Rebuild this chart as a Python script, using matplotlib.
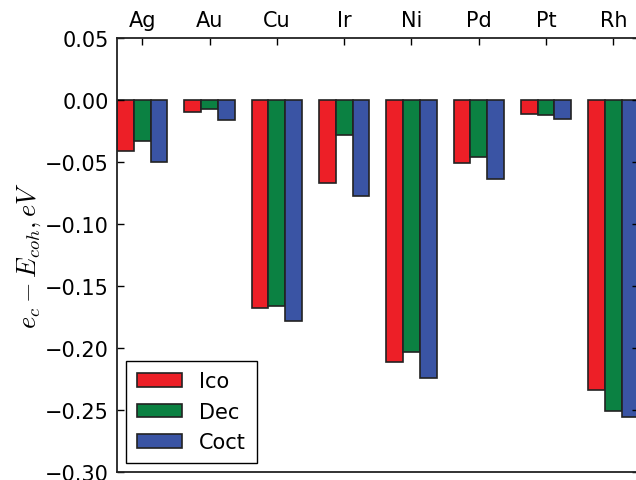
import matplotlib
matplotlib.use("Agg")
import matplotlib.pyplot as plt
import numpy as np

metals = ["Ag", "Au", "Cu", "Ir", "Ni", "Pd", "Pt", "Rh"]
ico = [-0.0414, -0.0099, -0.1680, -0.0672, -0.2116, -0.0508, -0.0116, -0.2336]
dec = [-0.0328, -0.0070, -0.1664, -0.0280, -0.2032, -0.0462, -0.0124, -0.2508]
coct = [-0.0497, -0.0164, -0.1780, -0.0777, -0.2245, -0.0640, -0.0156, -0.2559]
series_names = ["Ico", "Dec", "Coct"]
colors = ["#ED1F27", "#0B8142", "#3A54A4"]
ytick_vals = [-0.30, -0.25, -0.20, -0.15, -0.10, -0.05, 0.00, 0.05]

plt.rcParams["mathtext.fontset"] = "cm"
plt.rcParams["font.family"] = ["DejaVu Sans"]

W, H = 636, 481
fig = plt.figure(figsize=(W / 100, H / 100), dpi=100)
left, right, top, bottom = 117, 638.6, 39, 473
ax = fig.add_axes([left / W, 1 - bottom / H, (right - left) / W, (bottom - top) / H])

ind = np.arange(len(metals))
width = 0.25
for k, (vals, name, c) in enumerate(zip([ico, dec, coct], series_names, colors)):
    ax.bar(ind + k * width, vals, width, align="edge", color=c, edgecolor="#222222",
           linewidth=1.2, label=name)

ax.set_xlim(0, 7.75)
ax.set_ylim(-0.30, 0.05)
ax.set_yticks(ytick_vals)
ax.set_yticklabels([("%.2f" % v).replace("-0.00", "0.00").replace("-", "\u2212") for v in ytick_vals])
ax.set_xticks(ind + 1.5 * width)
ax.set_xticklabels(metals)
ax.xaxis.tick_top()
ax.tick_params(axis="x", which="both", top=True, bottom=False, direction="in",
               length=5, width=1, labelsize=15, pad=6)
ax.tick_params(axis="y", which="both", left=True, right=True, direction="in",
               length=5, width=1, labelsize=15, pad=6)
for s in ax.spines.values():
    s.set_linewidth(1.3)
    s.set_color("#222222")

ax.set_ylabel(r"$e_c - E_{coh}, eV$", fontsize=19, labelpad=1)

leg = ax.legend(loc="lower left", fontsize=15, fancybox=False, framealpha=1,
                edgecolor="black", handlelength=2.15, handleheight=0.62,
                handletextpad=0.85, labelspacing=0.5, borderaxespad=0.45,
                borderpad=0.5)
leg.get_frame().set_linewidth(1.0)

fig.savefig("out.png", dpi=100)
